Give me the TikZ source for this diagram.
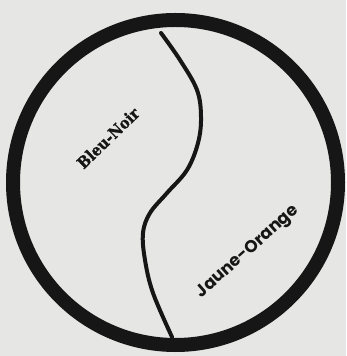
\documentclass[tikz,border=0pt]{standalone}
\usepackage{fontspec}
\newfontfamily\slabfont{DejaVu Serif Condensed Bold}[FakeBold=1.2]
\newfontfamily\geofont{Poppins Bold}
\definecolor{paper}{RGB}{230,230,228}
\definecolor{ink}{RGB}{22,22,22}
\begin{document}
\begin{tikzpicture}[x=1pt,y=1pt,
  ring/.style={draw=ink,line width=14pt},
  divider/.style={draw=ink,line width=4pt,line cap=round},
  lbl/.style={text=ink,inner sep=0pt}]
\fill[paper] (0,0) rectangle (346,356);
\useasboundingbox (0,0) rectangle (346,356);
\coordinate (top) at (161,323);
\coordinate (bot) at (172,19);
\draw[divider] plot[smooth,tension=0.6] coordinates {(top) (180,296) (197,266) (201,239) (198,213) (187,186) (167,163) (150,143) (143,123) (145,96) (153,63) (bot)};
\draw[ring] (175.5,173.5) circle (162.5);
\node[lbl,rotate=44] (bn) at (108,218) {\slabfont\fontsize{16}{19}\selectfont Bleu-Noir};
\node[lbl,rotate=41.7] (jo) at (248,104) {\geofont\fontsize{17}{20}\selectfont Jaune-Orange};
\end{tikzpicture}
\end{document}
